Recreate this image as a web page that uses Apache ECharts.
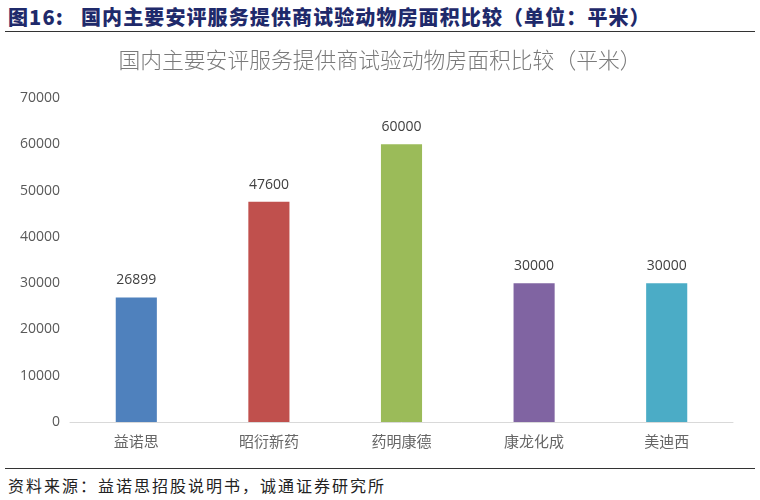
<!DOCTYPE html>
<html><head><meta charset="utf-8">
<script src="https://cdn.jsdelivr.net/npm/echarts@6/dist/echarts.min.js"></script>
<style>
html,body{margin:0;padding:0;background:#fff;}
#wrap{position:relative;width:760px;height:500px;overflow:hidden;}
.hdr{position:absolute;top:4px;font-family:"Noto Sans CJK SC",sans-serif;font-weight:900;font-size:20px;letter-spacing:1.1px;color:#1f2a6b;white-space:nowrap;line-height:26px;}
#hl{position:absolute;left:5px;top:31px;width:750px;height:1px;background:#333;}
#fl{position:absolute;left:5px;top:468px;width:750px;height:1px;background:#333;}
#ftr{position:absolute;left:8px;top:474px;font-family:"Noto Sans CJK SC",sans-serif;font-size:16px;letter-spacing:2px;color:#222;white-space:nowrap;line-height:22px;}
#chart{position:absolute;left:0;top:34px;width:760px;height:430px;}
</style></head>
<body><div id="wrap">
<div class="hdr" style="left:8px">图16:</div>
<div class="hdr" style="left:81px">国内主要安评服务提供商试验动物房面积比较（单位：平米）</div>
<div id="hl"></div>
<div id="chart"></div>
<div id="fl"></div>
<div id="ftr">资料来源：益诺思招股说明书，诚通证券研究所</div>
</div>
<script>
const categories = ["益诺思","昭衍新药","药明康德","康龙化成","美迪西"];
const areaValues = [26899, 47600, 60000, 30000, 30000];
const barColors = ["#4f81bd","#c0504d","#9bbb59","#8064a2","#4bacc6"];
const yTicks = [0,10000,20000,30000,40000,50000,60000,70000];

const chart = echarts.init(document.getElementById('chart'));
chart.setOption({
  animation:false,
  title:{text:"国内主要安评服务提供商试验动物房面积比较（平米）",left:'center',top:10,
    textStyle:{fontFamily:"Noto Sans CJK SC",fontWeight:300,fontSize:21.8,color:'#7a7a7a'}},
  grid:{left:70,right:27,top:64,bottom:42,containLabel:false},
  xAxis:{type:'category',data:categories,
    axisLine:{lineStyle:{color:'#d9d9d9',width:1}},axisTick:{show:false},
    axisLabel:{fontFamily:"Noto Sans CJK SC",fontSize:15,color:'#666',margin:12}},
  yAxis:{type:'value',min:yTicks[0],max:yTicks[yTicks.length-1],interval:10000,
    axisLine:{show:false},axisTick:{show:false},splitLine:{show:false},
    axisLabel:{fontFamily:"Open Sans",fontSize:14,color:'#595959',margin:10,formatter:v=>String(v)}},
  series:[{type:'bar',data:areaValues.map((v,i)=>({value:v,itemStyle:{color:barColors[i]}})),
    barWidth:'31%',
    label:{show:true,position:'top',distance:10,fontFamily:"Open Sans",fontSize:14,color:'#404040'}}]
});
</script>
</body></html>
